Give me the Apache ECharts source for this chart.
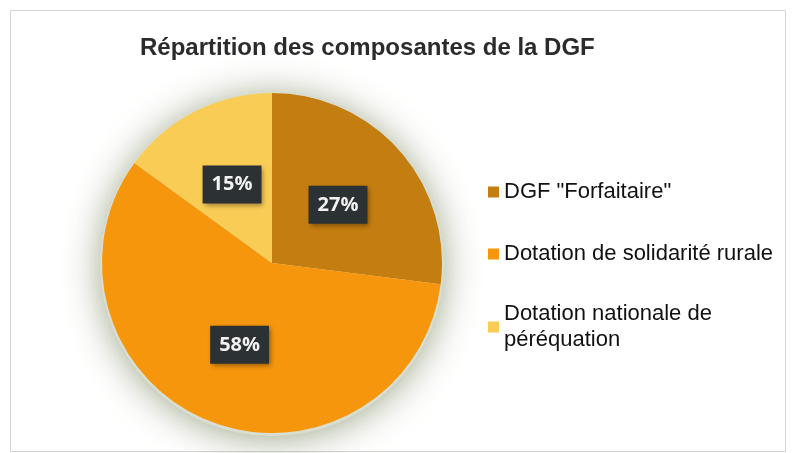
<!DOCTYPE html>
<html lang="fr" style="height: 100%">
<head>
    <meta charset="UTF-8">
    <title>Répartition des composantes de la DGF</title>
    <script type="text/javascript" src="https://cdn.jsdelivr.net/npm/echarts@6/dist/echarts.min.js"></script>
</head>
<body style="height: 100%; margin: 0; background: #fff">
    <div id="container" style="width: 792px; height: 453px"></div>
    <script type="text/javascript">
    var categories = ['DGF "Forfaitaire"', 'Dotation de solidarité rurale', 'Dotation nationale de\npéréquation'];
    var values = [27, 58, 15];
    var colors = ['#C47D10', '#F5960C', '#F9CD55'];

    var myChart = echarts.init(document.getElementById('container'));

    var option = {
        backgroundColor: '#fff',
        animation: false,
        title: {
            text: 'Répartition des composantes de la DGF',
            left: 135,
            top: 31,
            textStyle: {
                fontFamily: 'Liberation Sans',
                fontSize: 24,
                fontWeight: 'bold',
                color: '#2b2b2b'
            }
        },
        graphic: [{
            type: 'rect',
            shape: { x: 10.5, y: 10.5, width: 775, height: 441 },
            style: { fill: 'none', stroke: '#d4d4d4', lineWidth: 1 },
            silent: true
        }],
        legend: {
            orient: 'vertical',
            left: 483,
            top: 174,
            itemWidth: 11,
            itemHeight: 11,
            itemGap: 36,
            icon: 'rect',
            selectedMode: false,
            textStyle: {
                fontFamily: 'Liberation Sans',
                fontSize: 22,
                lineHeight: 26,
                color: '#111'
            },
            data: categories.map(function (name, i) {
                var item = { name: name };
                if (name.indexOf('\n') >= 0) {
                    item.textStyle = { padding: [0, 0, -26, 0] };
                }
                return item;
            })
        },
        series: [{
            // soft halo behind the pie
            type: 'pie',
            silent: true,
            z: 1,
            radius: 172,
            center: [272, 264],
            label: { show: false },
            itemStyle: {
                color: '#dadecf',
                shadowBlur: 36,
                shadowColor: 'rgba(150, 158, 128, 0.9)',
                shadowOffsetY: 3
            },
            data: [{ name: 'halo', value: 1 }]
        }, {
            type: 'pie',
            z: 2,
            radius: 170,
            center: [272, 263],
            startAngle: 90,
            clockwise: true,
            color: colors,
            label: {
                show: true,
                position: 'inside',
                formatter: '{c}%',
                fontFamily: 'Open Sans',
                fontSize: 20,
                fontWeight: 'bold',
                color: '#f2f2f2',
                backgroundColor: '#2c3134',
                padding: [9, 9, 9, 9],
                shadowBlur: 5,
                shadowColor: 'rgba(0,0,0,0.4)',
                shadowOffsetX: 2,
                shadowOffsetY: 2
            },
            labelLine: { show: false },
            data: categories.map(function (name, i) {
                return { name: name, value: values[i] };
            })
        }]
    };

    myChart.setOption(option);
    </script>
</body>
</html>
